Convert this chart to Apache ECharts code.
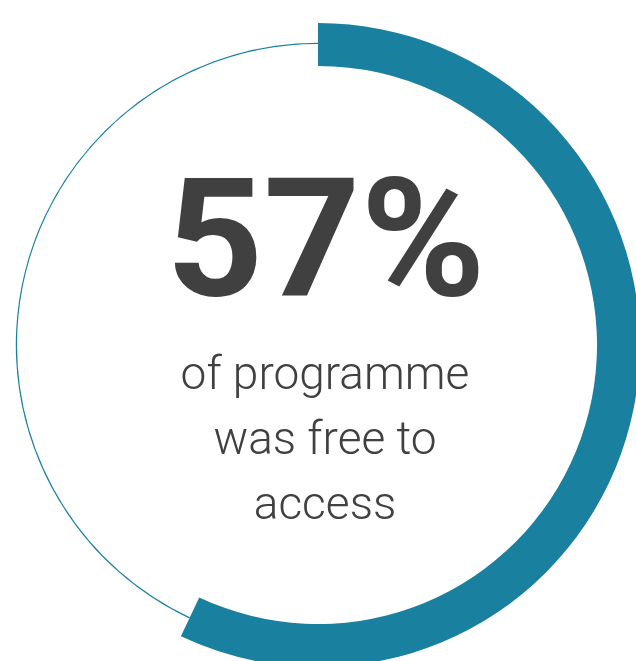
<!DOCTYPE html>
<html>
<head>
<meta charset="utf-8">
<script src="https://cdn.jsdelivr.net/npm/echarts@6/dist/echarts.min.js"></script>
<style>
  html, body { margin: 0; padding: 0; background: #ffffff; }
  #chart { width: 636px; height: 661px; }
</style>
</head>
<body>
<div id="chart"></div>
<script>
// Share of programme that was free to access vs. the rest
const categories = ['Free to access', 'Other'];
const shareValues = [57, 43];
const headline = '57%';
const captionLines = ['of programme', 'was free to', 'access'];

const TEAL = '#1a80a0';
const TEXT = '#404040';

const chart = echarts.init(document.getElementById('chart'), null, { renderer: 'canvas' });

// Thick band for the highlighted share, thin ring for the remainder
const bandData = categories.map((name, i) => ({
  name,
  value: shareValues[i],
  itemStyle: { color: i === 0 ? TEAL : 'rgba(0,0,0,0)' }
}));
const ringData = categories.map((name, i) => ({
  name,
  value: shareValues[i],
  itemStyle: { color: i === 0 ? 'rgba(0,0,0,0)' : TEAL }
}));

const common = {
  type: 'pie',
  center: [318, 345],
  startAngle: 90,
  clockwise: true,
  silent: true,
  animation: false,
  label: { show: false },
  labelLine: { show: false },
  emphasis: { disabled: true },
  avoidLabelOverlap: false,
  minAngle: 0
};

chart.setOption({
  backgroundColor: '#ffffff',
  series: [
    Object.assign({}, common, { name: 'ring', radius: [301, 302.2], data: ringData, z: 1 }),
    Object.assign({}, common, { name: 'band', radius: [279, 322], data: bandData, z: 2 })
  ],
  graphic: [
    {
      type: 'text',
      style: {
        text: headline,
        fontFamily: 'Roboto',
        fontWeight: 'bold',
        fontSize: 166,
        fill: TEXT,
        align: 'center',
        verticalAlign: 'middle'
      },
      x: 326,
      y: 253,
      scaleX: 1.02
    },
    {
      type: 'text',
      style: {
        text: captionLines.join('\n'),
        fontFamily: 'Roboto',
        fontWeight: 300,
        fontSize: 46,
        lineHeight: 65,
        fill: TEXT,
        align: 'center',
        verticalAlign: 'middle'
      },
      x: 325,
      y: 442
    }
  ]
});
</script>
</body>
</html>
